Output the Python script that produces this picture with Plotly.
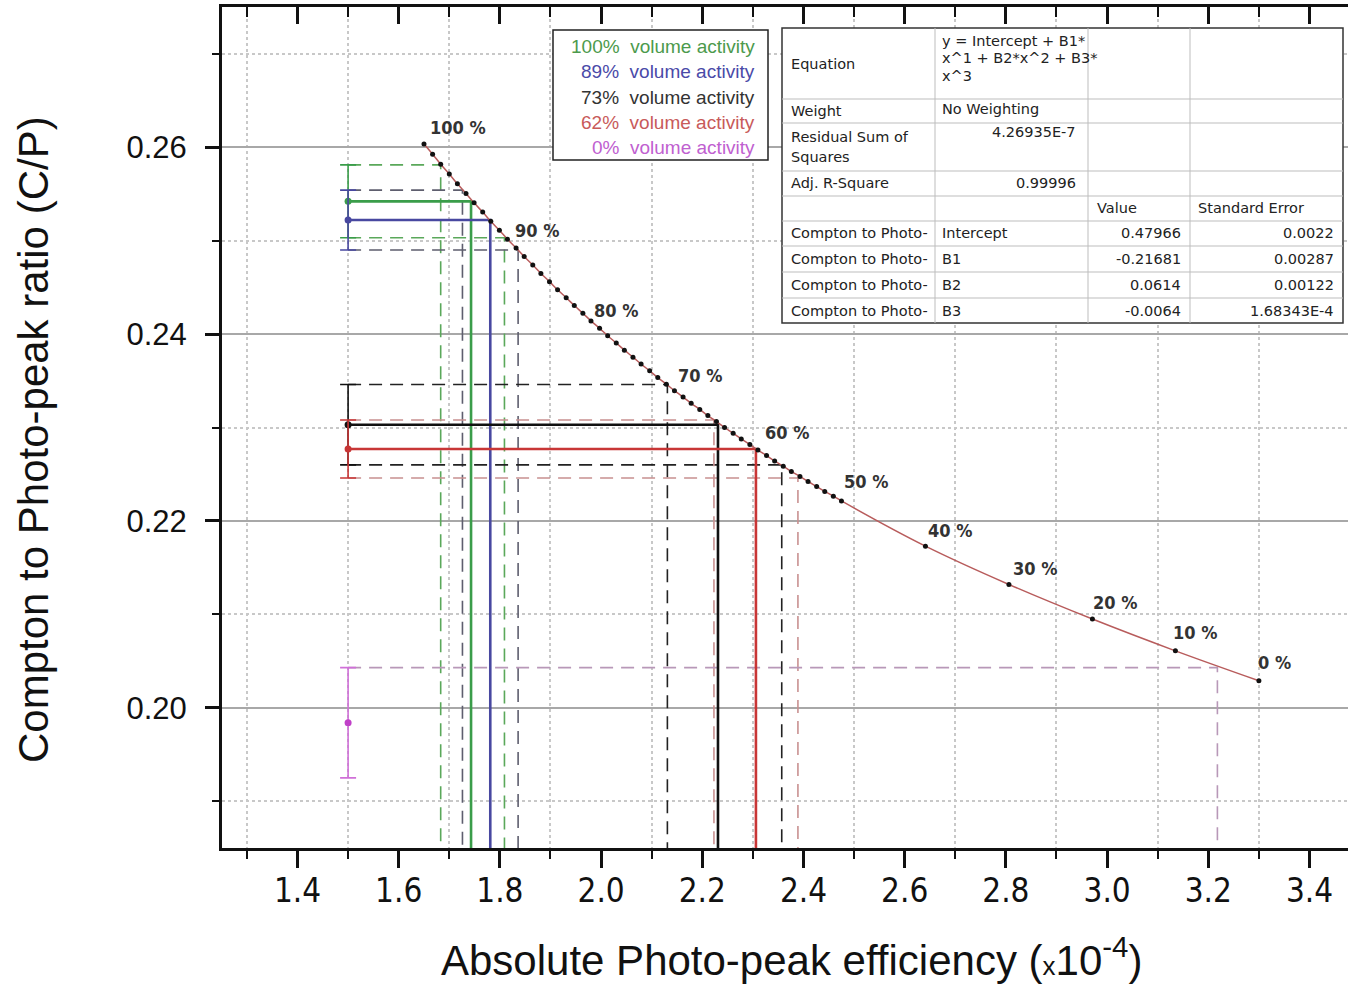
import plotly.graph_objects as go

# ---------------- data ----------------
# calibration points (volume activity %, efficiency x1e-4, C/P ratio)
pct_dense = list(range(100, 49, -1))
eff_dense = [1.650, 1.667, 1.683, 1.700, 1.716, 1.733, 1.749, 1.766, 1.782, 1.799,
             1.815, 1.832, 1.848, 1.865, 1.881, 1.898, 1.914, 1.931, 1.947, 1.964,
             1.980, 1.997, 2.013, 2.030, 2.046, 2.063, 2.079, 2.096, 2.112, 2.129,
             2.145, 2.162, 2.178, 2.195, 2.211, 2.228, 2.244, 2.261, 2.277, 2.294,
             2.310, 2.327, 2.343, 2.360, 2.376, 2.393, 2.409, 2.426, 2.442, 2.459,
             2.475]
cp_dense = [0.26034, 0.25925, 0.25817, 0.25712, 0.25608, 0.25505, 0.25404, 0.25305, 0.25207, 0.25110,
            0.25015, 0.24921, 0.24829, 0.24738, 0.24649, 0.24561, 0.24474, 0.24389, 0.24305, 0.24222,
            0.24141, 0.24061, 0.23982, 0.23904, 0.23828, 0.23753, 0.23679, 0.23606, 0.23534, 0.23464,
            0.23394, 0.23326, 0.23259, 0.23193, 0.23128, 0.23063, 0.23000, 0.22938, 0.22877, 0.22817,
            0.22758, 0.22700, 0.22642, 0.22586, 0.22530, 0.22476, 0.22422, 0.22369, 0.22316, 0.22265,
            0.22214]
pct_sparse = [40, 30, 20, 10, 0]
eff_sparse = [2.641, 2.806, 2.971, 3.135, 3.300]
cp_sparse = [0.2173, 0.2132, 0.2095, 0.2061, 0.2029]

label_pcts = [100, 90, 80, 70, 60, 50, 40, 30, 20, 10, 0]

# measured samples
sample_names = ["100%", "89%", "73%", "62%", "0%"]
sample_pos = [1.5, 1.5, 1.5, 1.5, 1.5]
sample_cp = [0.2542, 0.2522, 0.2303, 0.2277, 0.1984]
sample_cp_err = [0.0039, 0.0032, 0.0043, 0.0031, 0.0059]
sample_eff = [1.743, 1.781, 2.231, 2.306, None]
sample_eff_at_upper = [1.683, 1.726, 2.131, 2.223, 3.218]
sample_eff_at_lower = [1.809, 1.836, 2.357, 2.389, None]

# fit table
fit_rows = ["Intercept", "B1", "B2", "B3"]
fit_values = ["0.47966", "-0.21681", "0.0614", "-0.0064"]
fit_errors = ["0.0022", "0.00287", "0.00122", "1.68343E-4"]
fit_rss = "4.26935E-7"
fit_adjr2 = "0.99996"

# ---------------- styling ----------------
X_RANGE = [1.2508, 3.4761]
Y_RANGE = [0.185, 0.275]
ML, MR, MT, MB = 222, 0, 7, 136
W, H = 1348, 984
PW, PH = W - ML - MR, H - MT - MB

solid_colors = ["#3a9d4a", "#4848a0", "#111111", "#c83636", "#c040c8"]
dash_colors = ["#5aa85a", "#5e5e6e", "#222222", "#c89090", "#b898b8"]
legend_colors = ["#4c9a4c", "#4a4aa8", "#333333", "#c85a5a", "#c060d0"]
label_shift = [(34, -16), (30, -9), (25, -10), (26, -15), (29, -18), (25, -19),
               (25, -16), (26, -16), (23, -17), (20, -18), (16, -18)]
NARROW = "Liberation Sans Narrow, DejaVu Sans Condensed, Arial Narrow, sans-serif"
SANS = "Liberation Sans, Arial, sans-serif"


def px(xp):
    return (xp - ML) / PW


def py(yp):
    return (MT + PH - yp) / PH


fig = go.Figure()
ymin = Y_RANGE[0]
DASH = "13px,8px"

# dashed construction lines (error limits)
for i in range(len(sample_names)):
    up = sample_cp[i] + sample_cp_err[i]
    lo = sample_cp[i] - sample_cp_err[i]
    if sample_eff_at_upper[i] is not None:
        xe = sample_eff_at_upper[i]
        fig.add_trace(go.Scatter(x=[sample_pos[i], xe, xe], y=[up, up, ymin], mode="lines",
                                 line=dict(color=dash_colors[i], width=1.6, dash=DASH),
                                 hoverinfo="skip", showlegend=False))
    if sample_eff_at_lower[i] is not None:
        xe = sample_eff_at_lower[i]
        fig.add_trace(go.Scatter(x=[sample_pos[i], xe, xe], y=[lo, lo, ymin], mode="lines",
                                 line=dict(color=dash_colors[i], width=1.6, dash=DASH),
                                 hoverinfo="skip", showlegend=False))

# solid construction lines
for i in range(len(sample_names)):
    if sample_eff[i] is not None:
        xe = sample_eff[i]
        fig.add_trace(go.Scatter(x=[sample_pos[i], xe, xe], y=[sample_cp[i], sample_cp[i], ymin],
                                 mode="lines", line=dict(color=solid_colors[i], width=2.6),
                                 hoverinfo="skip", showlegend=False))

# sample points with error bars
for i in range(len(sample_names)):
    fig.add_trace(go.Scatter(x=[sample_pos[i]], y=[sample_cp[i]], mode="markers",
                             marker=dict(color=solid_colors[i], size=7),
                             error_y=dict(type="data", array=[sample_cp_err[i]], visible=True,
                                          color=solid_colors[i] if i < 4 else "#d070d8",
                                          thickness=1.6, width=8),
                             name=sample_names[i], showlegend=False))

# calibration curve
all_eff = eff_dense + eff_sparse
all_cp = cp_dense + cp_sparse
all_pct = pct_dense + pct_sparse
fig.add_trace(go.Scatter(x=all_eff, y=all_cp, mode="lines",
                         line=dict(color="#b85c5c", width=1.5, shape="spline"),
                         hoverinfo="skip", showlegend=False))
fig.add_trace(go.Scatter(x=all_eff, y=all_cp, mode="markers",
                         marker=dict(color="#111111", size=5),
                         showlegend=False))

# invisible trace for the top axis
fig.add_trace(go.Scatter(x=[sample_pos[0]], y=[sample_cp[0]], xaxis="x2", mode="markers",
                         marker=dict(opacity=0), hoverinfo="skip", showlegend=False))

annotations = []
# percentage labels
lookup = dict(zip(all_pct, zip(all_eff, all_cp)))
for p, (dx, dy) in zip(label_pcts, label_shift):
    xv, yv = lookup[p]
    annotations.append(dict(x=xv, y=yv, xref="x", yref="y", text=f"{p} %", showarrow=False,
                            xanchor="center", yanchor="middle", xshift=dx, yshift=-dy,
                            font=dict(family=NARROW, size=18, color="#333333", weight="bold")))

# legend box
shapes = [dict(type="rect", xref="paper", yref="paper", x0=px(553), x1=px(768), y0=py(160), y1=py(30),
               line=dict(color="#222222", width=1.5), fillcolor="white", layer="above")]
for i, name in enumerate(sample_names):
    annotations.append(dict(x=px(757), y=py(47 + 25 * i), xref="paper", yref="paper",
                            text=f"{name}&nbsp; volume activity", showarrow=False,
                            xanchor="right", yanchor="middle",
                            font=dict(family=SANS, size=19, color=legend_colors[i])))

# fit table
TX = [782, 935, 1088, 1190, 1343]
TY = [28, 99, 123, 171, 196, 221, 246, 272, 298, 323]
shapes.append(dict(type="rect", xref="paper", yref="paper", x0=px(TX[0]), x1=px(TX[-1]),
                   y0=py(TY[-1]), y1=py(TY[0]), line=dict(color="#333333", width=1.5),
                   fillcolor="white", layer="above"))
for xv in TX[1:-1]:
    shapes.append(dict(type="line", xref="paper", yref="paper", x0=px(xv), x1=px(xv),
                       y0=py(TY[-1]), y1=py(TY[0]), line=dict(color="#bdbdbd", width=1), layer="above"))
for yv in TY[1:-1]:
    shapes.append(dict(type="line", xref="paper", yref="paper", x0=px(TX[0]), x1=px(TX[-1]),
                       y0=py(yv), y1=py(yv), line=dict(color="#bdbdbd", width=1), layer="above"))

TF = dict(family="DejaVu Sans, sans-serif", size=14.5, color="#222222")


def cell(text, xp, yp, anchor="left"):
    annotations.append(dict(x=px(xp), y=py(yp), xref="paper", yref="paper", text=text,
                            showarrow=False, xanchor=anchor, yanchor="middle", font=TF))


cell("Equation", 789, 64)
cell("y = Intercept + B1*", 940, 41)
cell("x^1 + B2*x^2 + B3*", 940, 58)
cell("x^3", 940, 76)
cell("Weight", 789, 111)
cell("No Weighting", 940, 109)
cell("Residual Sum of", 789, 137)
cell("Squares", 789, 157)
cell(fit_rss, 1078, 132, "right")
cell("Adj. R-Square", 789, 183)
cell(fit_adjr2, 1078, 183, "right")
cell("Value", 1095, 208)
cell("Standard Error", 1196, 208)
for j in range(len(fit_rows)):
    yc = 233 + 26 * j
    cell("Compton to Photo-", 789, yc)
    cell(fit_rows[j], 940, yc)
    cell(fit_values[j], 1183, yc, "right")
    cell(fit_errors[j], 1336, yc, "right")

# axis titles
annotations.append(dict(x=px(33), y=py(440), xref="paper", yref="paper",
                        text="Compton to Photo-peak ratio (C/P)", textangle=-90, showarrow=False,
                        xanchor="center", yanchor="middle",
                        font=dict(family=SANS, size=42, color="#111111")))
annotations.append(dict(x=px(791), y=py(957), xref="paper", yref="paper",
                        text="Absolute Photo-peak efficiency (<span style='font-size:26px'>x</span>10<sup>-4</sup>)",
                        showarrow=False, xanchor="center", yanchor="middle",
                        font=dict(family=SANS, size=42, color="#111111")))

fig.update_layout(
    width=W, height=H, margin=dict(l=ML, r=MR, t=MT, b=MB),
    paper_bgcolor="white", plot_bgcolor="white", showlegend=False,
    shapes=shapes, annotations=annotations,
    xaxis=dict(range=X_RANGE, tickmode="linear", tick0=1.4, dtick=0.2, tickformat=".1f",
               ticks="outside", ticklen=17, tickwidth=2.5, tickcolor="#111111",
               showline=True, linewidth=3, linecolor="#111111", showgrid=False, zeroline=False,
               tickfont=dict(family=NARROW, size=33, color="#111111"), ticklabelstandoff=-6,
               minor=dict(tick0=1.3, dtick=0.1, ticks="outside", ticklen=8, tickwidth=2,
                          tickcolor="#111111", showgrid=True, gridcolor="#c8c8c8",
                          griddash="dot", gridwidth=1.5)),
    xaxis2=dict(range=X_RANGE, overlaying="x", side="top", anchor="y", tickmode="linear",
                tick0=1.4, dtick=0.2, ticks="inside", ticklen=17, tickwidth=2.5, tickcolor="#111111",
                showticklabels=False, showline=True, linewidth=3, linecolor="#111111",
                showgrid=False, zeroline=False,
                minor=dict(tick0=1.3, dtick=0.1, ticks="inside", ticklen=10, tickwidth=2,
                           tickcolor="#111111", showgrid=False)),
    yaxis=dict(range=Y_RANGE, tickmode="linear", tick0=0.20, dtick=0.02, tickformat=".2f",
               ticks="outside", ticklen=14, tickwidth=2.5, tickcolor="#111111",
               showline=True, linewidth=3, linecolor="#111111", showgrid=True,
               gridcolor="#a8a8a8", gridwidth=1.5, zeroline=False,
               tickfont=dict(family=SANS, size=31, color="#111111"), ticklabelstandoff=12,
               minor=dict(tick0=0.19, dtick=0.01, ticks="outside", ticklen=7, tickwidth=2,
                          tickcolor="#111111", showgrid=True, gridcolor="#c8c8c8",
                          griddash="dot", gridwidth=1.5)),
)

fig.write_html("out.html", config={"displayModeBar": False},
               post_script="document.body.style.margin='0px';document.body.style.overflow='hidden';")
